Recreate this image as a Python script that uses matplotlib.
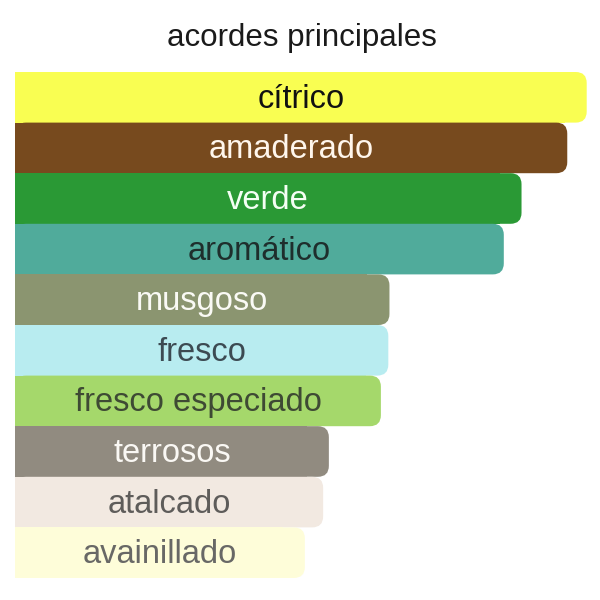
import matplotlib
matplotlib.use("Agg")
import matplotlib.pyplot as plt
from matplotlib.patches import FancyBboxPatch, Rectangle

title = "acordes principales"
accords = ["cítrico", "amaderado", "verde", "aromático", "musgoso", "fresco",
           "fresco especiado", "terrosos", "atalcado", "avainillado"]
values = [100, 96.6, 88.6, 85.5, 65.5, 65.3, 64.0, 54.9, 53.9, 50.7]
bar_colors = ["#F9FE52", "#774A1E", "#2A9935", "#50AB9B", "#8B9570", "#B8ECF0",
              "#A5D86B", "#918B80", "#F2E9E1", "#FEFDD9"]
text_colors = ["#111111", "#FFF6EC", "#F4FFF4", "#1E2E2C", "#FAFAF5", "#3C4A52",
               "#3E4A34", "#FAF8F4", "#5E5C5A", "#686866"]

plt.rcParams['font.family'] = ['Liberation Sans', 'DejaVu Sans']

W, H = 600, 600
fig = plt.figure(figsize=(6, 6), dpi=100)
left_px, right_px, top_px, bottom_px = 15, 586.7, 72, 578
ax = fig.add_axes([left_px / W, 1 - bottom_px / H, (right_px - left_px) / W, (bottom_px - top_px) / H])
ax.set_xlim(0, 100)
ax.set_ylim(len(accords) - 0.5, -0.5)
ax.axis("off")

ypos = list(range(len(accords)))
bars = ax.barh(ypos, values, height=1.0, color=bar_colors)

px_x = 100 / (right_px - left_px)          # data units per pixel (x)
px_y = len(accords) / (bottom_px - top_px)  # data units per pixel (y)
r_px = 11
r = r_px * px_x
aspect = px_y / px_x

for b, c in zip(bars, bar_colors):
    x0, y0 = b.get_x(), b.get_y()
    w, h = b.get_width(), b.get_height()
    b.set_visible(False)
    ax.add_patch(FancyBboxPatch((x0, y0), w, h,
                                boxstyle=f"round,pad=0,rounding_size={r}",
                                mutation_aspect=aspect, facecolor=c,
                                edgecolor="none", linewidth=0))
    ax.add_patch(Rectangle((x0, y0), w - 2 * r, h, facecolor=c,
                           edgecolor="none", linewidth=0))

for y, v, name, tc in zip(ypos, values, accords, text_colors):
    ax.text(v / 2, y + 0.04, name, ha="center", va="center",
            fontsize=23.5, color=tc)

fig.text(302 / W, 1 - 46 / H, title, ha="center", va="baseline",
         fontsize=22.5, color="#1a1a1a")

fig.savefig("out.png", dpi=100, facecolor="white")
